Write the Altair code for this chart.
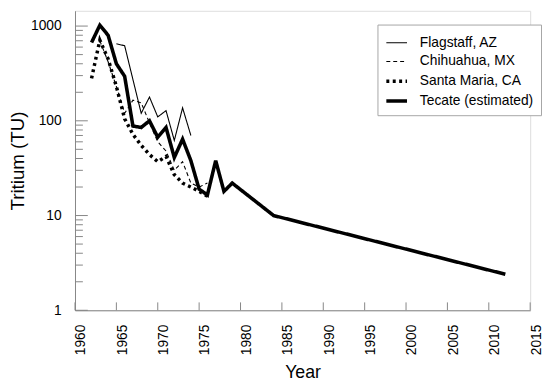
import altair as alt
import pandas as pd

# ---- data ----
series_names = ["Flagstaff, AZ", "Chihuahua, MX", "Santa Maria, CA", "Tecate (estimated)"]

flag_years = [1965, 1966, 1968, 1969, 1970, 1971, 1972, 1973, 1974]
flag_tu = [650, 620, 120, 178, 110, 128, 62, 137, 70]

chih_years = [1963, 1964, 1965, 1966, 1967, 1968, 1969, 1970, 1971, 1972, 1973, 1974, 1975, 1976]
chih_tu = [700, 420, 230, 120, 165, 155, 95, 60, 48, 30, 37, 22, 20, 22]

sm_years = [1962, 1963, 1964, 1965, 1966, 1967, 1968, 1969, 1970, 1971, 1972, 1973, 1974, 1975, 1976]
sm_tu = [280, 710, 450, 230, 105, 72, 55, 44, 37, 42, 27, 22, 20, 18, 16]

tec_years = [1962, 1963, 1964, 1965, 1966, 1967, 1968, 1969, 1970, 1971, 1972, 1973, 1974,
             1975, 1976, 1977, 1978, 1979, 1984, 2012]
tec_tu = [670, 1020, 800, 400, 295, 88, 85, 100, 67, 85, 41, 64, 38,
          19, 16.5, 38, 18, 22, 10, 2.4]

x_tick_years = list(range(1960, 2016, 5))
y_major = [1, 10, 100, 1000]
y_minor = [m * d for d in [1, 10, 100] for m in range(2, 10)]

rows = []
for name, ys, vs in zip(series_names,
                        [flag_years, chih_years, sm_years, tec_years],
                        [flag_tu, chih_tu, sm_tu, tec_tu]):
    for yr, v in zip(ys, vs):
        rows.append({"series": name, "year": yr, "tu": v})
df = pd.DataFrame(rows)

W, H = 462, 304
FONT = "Liberation Sans"
GRAY = "#868686"

xscale = alt.Scale(domain=[1960, 2015], nice=False, zero=False)
yscale = alt.Scale(type="log", domain=[1, 1450], nice=False)

legend = alt.Legend(orient="none", legendX=307, legendY=14, title=None,
                    strokeColor="#a6a6a6", padding=7, labelFontSize=14,
                    labelFont=FONT, labelColor="black", symbolSize=440,
                    symbolType="stroke", symbolStrokeColor="black",
                    rowPadding=0, labelOffset=11, labelLimit=300,
                    fillColor="white")

lines = alt.Chart(df).mark_line(color="black", clip=False).encode(
    x=alt.X("year:Q", scale=xscale, title="Year",
            axis=alt.Axis(values=x_tick_years, format="d", labelAngle=-90,
                          labelAlign="right", labelBaseline="middle",
                          labelOffset=6,
                          ticks=False, grid=False, domainColor=GRAY,
                          labelFontSize=14, labelFont=FONT, labelColor="black",
                          labelPadding=14, titleFontSize=18, titleFont=FONT,
                          titleFontWeight="normal", titleColor="black",
                          titlePadding=9)),
    y=alt.Y("tu:Q", scale=yscale, title="Tritium (TU)",
            axis=alt.Axis(values=y_major, format="d", ticks=False, grid=False,
                          domainColor=GRAY, labelFontSize=14, labelFont=FONT,
                          labelColor="black", labelPadding=14, titleFontSize=19,
                          titleFont=FONT, titleFontWeight="normal",
                          titleColor="black", titlePadding=3)),
    strokeDash=alt.StrokeDash("series:O",
                              scale=alt.Scale(domain=series_names,
                                              range=[[1, 0], [4, 3], [3, 3.5], [1, 0]]),
                              sort=series_names,
                              legend=legend),
    strokeWidth=alt.StrokeWidth("series:O",
                                scale=alt.Scale(type="ordinal", domain=series_names,
                                                range=[1.1, 1.1, 3.5, 3.6]),
                                sort=series_names,
                                legend=legend),
    detail="series:N",
)

xticks = alt.Chart(pd.DataFrame({"year": x_tick_years})).mark_rule(
    color=GRAY, strokeWidth=1).encode(
    x=alt.X("year:Q", scale=xscale), y=alt.value(H), y2=alt.value(H - 8))

ymaj = alt.Chart(pd.DataFrame({"tu": y_major})).mark_rule(
    color=GRAY, strokeWidth=1).encode(
    y=alt.Y("tu:Q", scale=yscale), x=alt.value(0), x2=alt.value(13))

ymin = alt.Chart(pd.DataFrame({"tu": y_minor})).mark_rule(
    color=GRAY, strokeWidth=1).encode(
    y=alt.Y("tu:Q", scale=yscale), x=alt.value(0), x2=alt.value(8))

chart = alt.layer(xticks, ymaj, ymin, lines).properties(
    width=W, height=H,
    padding={"left": 68, "top": 0, "right": 12, "bottom": 72},
    autosize=alt.AutoSizeParams(type="none"),
).configure_view(stroke=None).configure(background="white")

chart.save("out.html", embed_options={"renderer": "svg", "actions": False})
